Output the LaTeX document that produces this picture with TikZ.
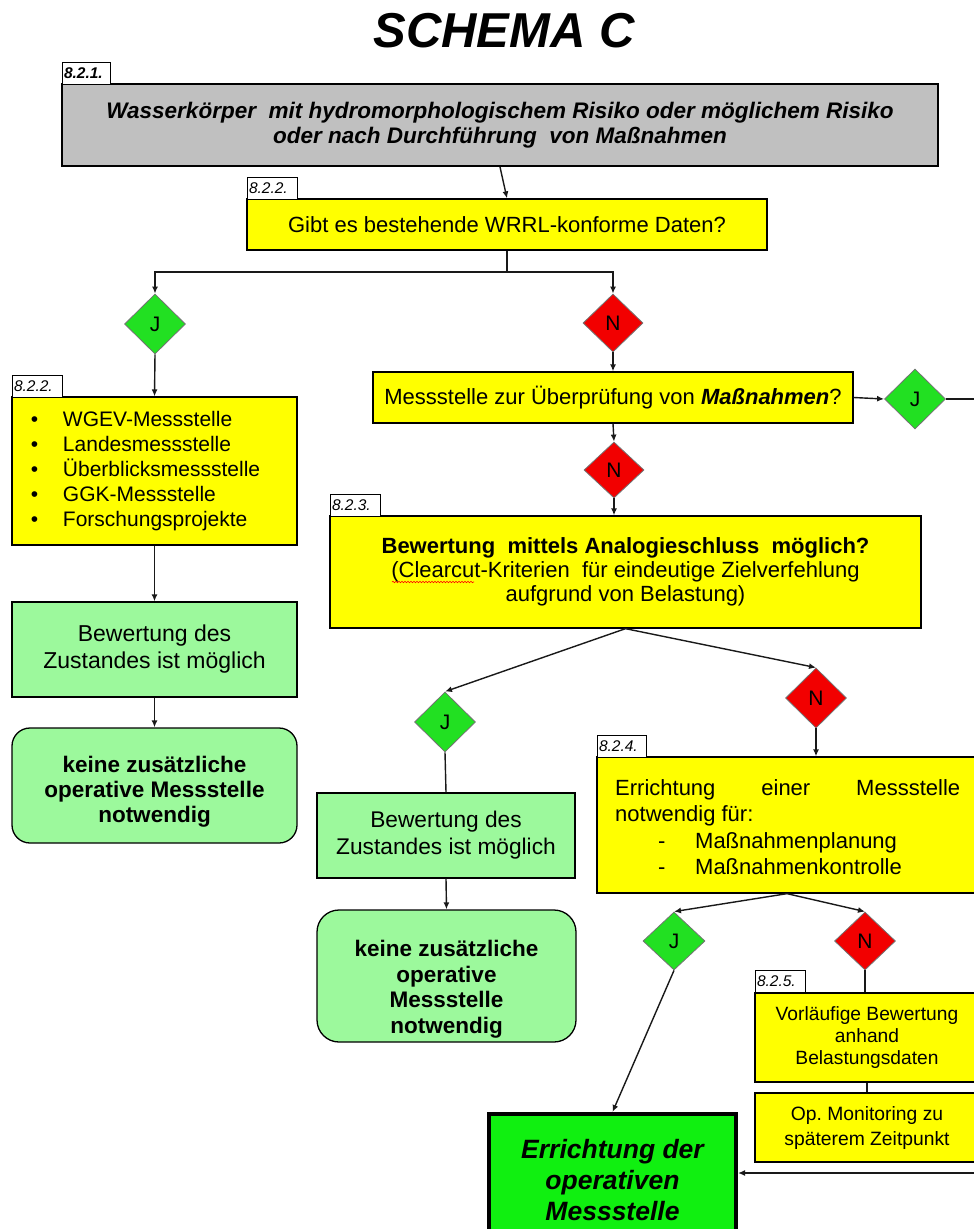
\documentclass[tikz,border=0pt]{standalone}
\usepackage{fontspec}
\setmainfont{Liberation Sans}
\usetikzlibrary{shapes.geometric,arrows.meta,calc,decorations.pathmorphing}
\definecolor{ylw}{HTML}{FFFF00}
\definecolor{gry}{HTML}{C0C0C0}
\definecolor{lgr}{HTML}{9CF99C}
\definecolor{dgr}{HTML}{22E022}
\definecolor{dred}{HTML}{F20000}
\definecolor{fgr}{HTML}{10F010}
\newcommand\fmain{\fontsize{22}{25}\selectfont}
\frenchspacing
\begin{document}
\begin{tikzpicture}[x=1pt,y=-1pt,
  box/.style={draw=black, line width=1.3pt, fill=ylw, inner sep=2pt, align=center, font=\fmain},
  lbl/.style={draw=black, line width=1pt, fill=white, minimum width=50pt, minimum height=22pt, inner xsep=2pt, inner ysep=1pt, text width=46pt, align=left, font=\fontsize{15.5}{17}\selectfont\itshape},
  dia/.style={diamond, aspect=1, inner sep=0pt, draw=black!55, line width=0.8pt, minimum width=61pt, minimum height=60pt, font=\fontsize{21}{23}\selectfont},
  jdia/.style={dia, fill=dgr},
  ndia/.style={dia, fill=dred},
  ln/.style={line width=1.4pt, draw=black!90},
  arr/.style={ln, -{Latex[length=7pt,width=6pt]}}
]
\clip (0,0) rectangle (974,1229);
\fill[white] (0,0) rectangle (974,1229);

% title
\node[anchor=base, inner sep=0pt, font=\fontsize{49}{55}\selectfont\bfseries\itshape] (title) at (504,47) {SCHEMA C};

% 8.2.1
\node[box, fill=gry, line width=2pt, minimum width=876pt, minimum height=82pt,
      font=\fontsize{22.5}{25}\selectfont\bfseries\itshape] (top) at (500,125)
  {Wasserkörper\ \ mit hydromorphologischem Risiko oder möglichem Risiko\\oder nach Durchführung\ \ von Maßnahmen};
\node[lbl, minimum width=48pt, text width=44pt, font=\fontsize{15.5}{17}\selectfont\bfseries\itshape] (l1) at (86,73) {8.2.1.};

% 8.2.2
\node[box, minimum width=520pt, minimum height=51pt] (q1) at (507,224.5) {Gibt es bestehende WRRL-konforme Daten?};
\node[lbl] (l2) at (272,188) {8.2.2.};
\coordinate (s1) at (507,272);

\node[jdia] (J1) at (155,324) {J};
\node[ndia, minimum width=60pt, minimum height=58pt] (N1) at (613,323) {N};

% left column
\node[box, minimum width=285pt, minimum height=148pt, text width=265pt, inner xsep=10pt, align=left,
      font=\fontsize{21}{25}\selectfont] (lst) at (154.5,471)
  {\hspace*{9pt}\makebox[32pt][l]{\textbullet}WGEV-Messstelle\\
   \hspace*{9pt}\makebox[32pt][l]{\textbullet}Landesmessstelle\\
   \hspace*{9pt}\makebox[32pt][l]{\textbullet}Überblicksmessstelle\\
   \hspace*{9pt}\makebox[32pt][l]{\textbullet}GGK-Messstelle\\
   \hspace*{9pt}\makebox[32pt][l]{\textbullet}Forschungsprojekte};
\node[lbl] (l3) at (37,386) {8.2.2.};

\node[box, fill=lgr, minimum width=285pt, minimum height=95pt, font=\fontsize{23}{27}\selectfont] (g1) at (154.5,649.5)
  {Bewertung des\\Zustandes ist möglich};
\node[box, fill=lgr, rounded corners=18pt, minimum width=285pt, minimum height=115pt] (k1) at (154.5,785.5) {};
\node[align=center, inner sep=0pt, font=\fontsize{22.5}{25}\selectfont\bfseries] (k1t) at (154.5,792)
  {keine zusätzliche\\operative Messstelle\\notwendig};

% middle column
\node[box, minimum width=480pt, minimum height=51pt] (m) at (613,397.5)
  {Messstelle zur Überprüfung von \textbf{\textit{Maßnahmen}}?};
\node[jdia] (J2) at (915,399) {J};
\coordinate (e1) at (990,399);
\node[ndia, minimum width=60pt, minimum height=56pt] (N2) at (614,470) {N};

\node[box, minimum width=591pt, minimum height=112pt, font=\fontsize{22}{24}\selectfont] (b3) at (625.5,572)
  {\textbf{Bewertung\ \ mittels Analogieschluss\ \ möglich?}\\(Clearcut-Kriterien\ \ für eindeutige Zielverfehlung\\aufgrund von Belastung)};
\node[lbl] (l4) at (355,505) {8.2.3.};
\draw[red, line width=0.6pt, decorate, decoration={snake, amplitude=0.7pt, segment length=3pt}] (392,582) -- (474,582);

\node[jdia] (J3) at (445,722) {J};
\node[ndia] (N3) at (816,698) {N};

\node[box, fill=lgr, minimum width=258pt, minimum height=85pt, font=\fontsize{22.7}{27}\selectfont] (g2) at (446,835.5)
  {Bewertung des\\Zustandes ist möglich};
\node[box, fill=lgr, rounded corners=22pt, minimum width=259pt, minimum height=132pt] (k2) at (446.5,976) {};
\node[align=center, inner sep=0pt, font=\fontsize{22.5}{25.5}\selectfont\bfseries] (k2t) at (446.5,989)
  {keine zusätzliche\\operative\\Messstelle\\notwendig};

% right column
\node[box, minimum width=393pt, minimum height=136pt] (b4) at (793.5,825) {};
\node[anchor=west, inner sep=0pt, text width=345pt, align=justify, font=\fontsize{22}{26.5}\selectfont] (b4t) at (615,827)
  {Errichtung einer Messstelle notwendig für:\\
   \hspace*{43pt}\makebox[37pt][l]{-}Maßnahmenplanung\\
   \hspace*{43pt}\makebox[37pt][l]{-}Maßnahmenkontrolle};
\node[lbl, minimum width=49pt, text width=45pt] (l5) at (621.5,746.5) {8.2.4.};

\coordinate (s4) at ([xshift=-6.5pt]b4.south);
\node[jdia, minimum width=62pt, minimum height=58pt] (J4) at (674,941) {J};
\node[ndia, minimum width=61pt, minimum height=58pt] (N4) at (865,941) {N};

\node[box, minimum width=224pt, minimum height=89pt, font=\fontsize{19.2}{22}\selectfont] (b5) at (867,1037.5)
  {Vorläufige Bewertung\\anhand\\Belastungsdaten};
\node[lbl] (l6) at (780,981.5) {8.2.5.};
\node[box, minimum width=224pt, minimum height=69pt, font=\fontsize{19.3}{25}\selectfont] (op) at (867,1127.5)
  {Op.\ Monitoring zu\\späterem Zeitpunkt};

\node[box, fill=fgr, line width=4pt, minimum width=247pt, minimum height=133pt,
      font=\fontsize{26.5}{31}\selectfont\bfseries\itshape] (fin) at (612.5,1180.5)
  {Errichtung der\\operativen\\Messstelle};
\coordinate (e2) at (990,1173);

% connectors
\draw[arr] (top.south) -- (q1.north);
\draw[ln] (q1.south) -- (s1);
\draw[arr] (s1) -| (J1.north);
\draw[arr] (s1) -| (N1.north);
\draw[arr] (J1.south) -- (lst.north);
\draw[arr] (lst.south) -- (g1.north);
\draw[arr] (g1.south) -- (k1.north);
\draw[arr] (N1.south) -- (m.north);
\draw[arr] (m.east) -- (J2.west);
\draw[ln] (J2.east) -- (e1);
\draw[arr] (m.south) -- (N2.north);
\draw[arr] (N2.south) -- (N2.south |- b3.north);
\draw[arr] (b3.south) -- (J3.north);
\draw[arr] (b3.south) -- (N3.north);
\draw[ln] (J3.south) -- (g2.north);
\draw[arr] (g2.south) -- (k2.north);
\draw[arr] (N3.south) -- (N3.south |- b4.north);
\draw[arr] (s4) -- (J4.north);
\draw[arr] (s4) -- (N4.north);
\draw[ln] (N4.south) -- (N4.south |- b5.north);
\draw[ln] (b5.south) -- (op.north);
\draw[arr] (J4.south) -- (fin.north);
\draw[arr] (e2) -- (e2 -| fin.east);
\end{tikzpicture}
\end{document}
